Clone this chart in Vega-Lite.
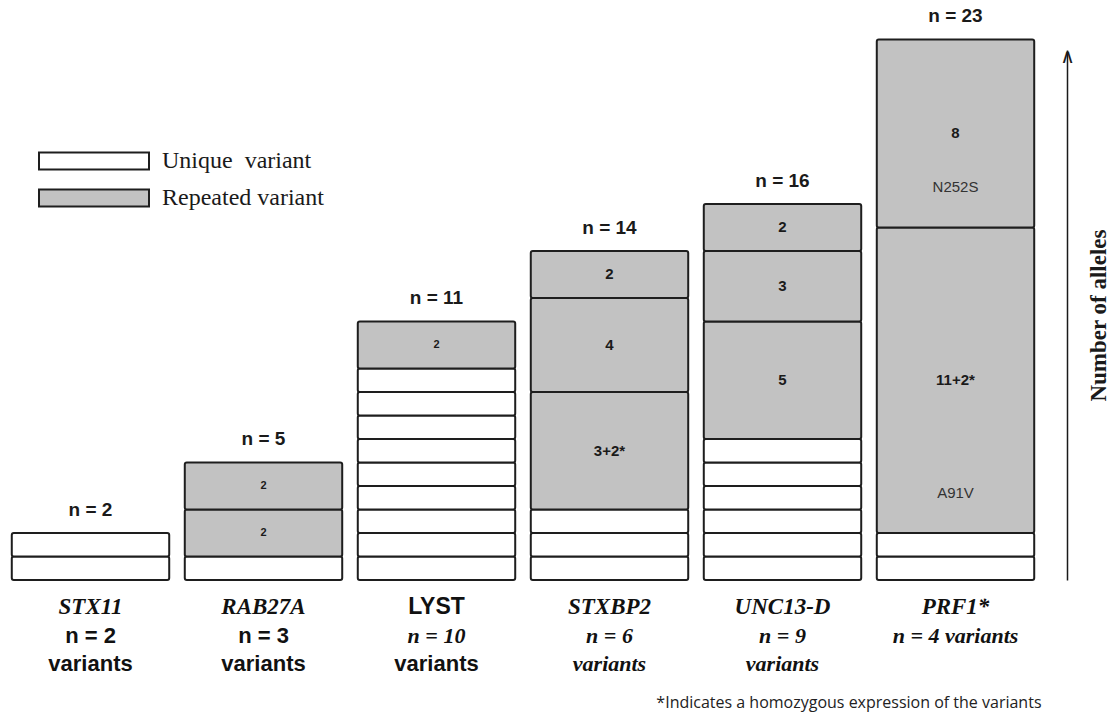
{
  "$schema": "https://vega.github.io/schema/vega-lite/v6.json",
  "width": 1038,
  "height": 530,
  "autosize": {"type": "none"},
  "padding": {"left": 4, "top": 50, "right": 73, "bottom": 135},
  "background": "white",
  "config": {"view": {"stroke": null}},
  "resolve": {"scale": {"x": "shared", "y": "shared"}, "axis": {"x": "independent", "y": "independent"}},
  "datasets": {
    "blocks": [
      {"gene": "STX11", "k": 1, "type": "Unique variant", "alleles": 1},
      {"gene": "STX11", "k": 2, "type": "Unique variant", "alleles": 1},
      {"gene": "RAB27A", "k": 1, "type": "Unique variant", "alleles": 1},
      {"gene": "RAB27A", "k": 2, "type": "Repeated variant", "alleles": 2, "label": "2"},
      {"gene": "RAB27A", "k": 3, "type": "Repeated variant", "alleles": 2, "label": "2"},
      {"gene": "LYST", "k": 1, "type": "Unique variant", "alleles": 1},
      {"gene": "LYST", "k": 2, "type": "Unique variant", "alleles": 1},
      {"gene": "LYST", "k": 3, "type": "Unique variant", "alleles": 1},
      {"gene": "LYST", "k": 4, "type": "Unique variant", "alleles": 1},
      {"gene": "LYST", "k": 5, "type": "Unique variant", "alleles": 1},
      {"gene": "LYST", "k": 6, "type": "Unique variant", "alleles": 1},
      {"gene": "LYST", "k": 7, "type": "Unique variant", "alleles": 1},
      {"gene": "LYST", "k": 8, "type": "Unique variant", "alleles": 1},
      {"gene": "LYST", "k": 9, "type": "Unique variant", "alleles": 1},
      {"gene": "LYST", "k": 10, "type": "Repeated variant", "alleles": 2, "label": "2"},
      {"gene": "STXBP2", "k": 1, "type": "Unique variant", "alleles": 1},
      {"gene": "STXBP2", "k": 2, "type": "Unique variant", "alleles": 1},
      {"gene": "STXBP2", "k": 3, "type": "Unique variant", "alleles": 1},
      {"gene": "STXBP2", "k": 4, "type": "Repeated variant", "alleles": 5, "label": "3+2*"},
      {"gene": "STXBP2", "k": 5, "type": "Repeated variant", "alleles": 4, "label": "4"},
      {"gene": "STXBP2", "k": 6, "type": "Repeated variant", "alleles": 2, "label": "2"},
      {"gene": "UNC13-D", "k": 1, "type": "Unique variant", "alleles": 1},
      {"gene": "UNC13-D", "k": 2, "type": "Unique variant", "alleles": 1},
      {"gene": "UNC13-D", "k": 3, "type": "Unique variant", "alleles": 1},
      {"gene": "UNC13-D", "k": 4, "type": "Unique variant", "alleles": 1},
      {"gene": "UNC13-D", "k": 5, "type": "Unique variant", "alleles": 1},
      {"gene": "UNC13-D", "k": 6, "type": "Unique variant", "alleles": 1},
      {"gene": "UNC13-D", "k": 7, "type": "Repeated variant", "alleles": 5, "label": "5"},
      {"gene": "UNC13-D", "k": 8, "type": "Repeated variant", "alleles": 3, "label": "3"},
      {"gene": "UNC13-D", "k": 9, "type": "Repeated variant", "alleles": 2, "label": "2"},
      {"gene": "PRF1", "k": 1, "type": "Unique variant", "alleles": 1},
      {"gene": "PRF1", "k": 2, "type": "Unique variant", "alleles": 1},
      {"gene": "PRF1", "k": 3, "type": "Repeated variant", "alleles": 13, "label": "11+2*", "variant": "A91V"},
      {"gene": "PRF1", "k": 4, "type": "Repeated variant", "alleles": 8, "label": "8", "variant": "N252S"}
    ],
    "genes": [
      {"gene": "STX11", "total": 2, "ntext": "n = 2", "line1": "n = 2", "line2": "variants"},
      {"gene": "RAB27A", "total": 5, "ntext": "n = 5", "line1": "n = 3", "line2": "variants"},
      {"gene": "LYST", "total": 11, "ntext": "n = 11", "line1": "n = 10", "line2": "variants"},
      {"gene": "STXBP2", "total": 14, "ntext": "n = 14", "line1": "n = 6", "line2": "variants"},
      {"gene": "UNC13-D", "total": 16, "ntext": "n = 16", "line1": "n = 9", "line2": "variants"},
      {"gene": "PRF1", "total": 23, "ntext": "n = 23", "line1": "n = 4 variants", "line2": ""}
    ],
    "notes": [
      {"note": "*Indicates a homozygous expression of the variants"}
    ]
  },
  "layer": [
    {
      "data": {"name": "blocks"},
      "transform": [
        {"stack": "alleles", "groupby": ["gene"], "sort": [{"field": "k", "order": "ascending"}], "as": ["y0", "y1"]}
      ],
      "mark": {"type": "bar", "stroke": "#1e1e1e", "strokeWidth": 2, "cornerRadius": 2},
      "encoding": {
        "x": {
          "field": "gene", "type": "nominal",
          "scale": {"domain": ["STX11", "RAB27A", "LYST", "STXBP2", "UNC13-D", "PRF1"], "paddingInner": 0.09, "paddingOuter": 0.045},
          "axis": {
            "orient": "bottom", "domain": false, "ticks": false, "grid": false, "title": null,
            "labelPadding": 15, "labelFontSize": 23, "labelAngle": 0,
            "labelFont": {"condition": {"test": "datum.value === 'LYST'", "value": "Liberation Sans"}, "value": "Liberation Serif"},
            "labelFontStyle": {"condition": {"test": "datum.value === 'LYST'", "value": "normal"}, "value": "italic"},
            "labelFontWeight": "bold", "labelColor": "#111111",
            "labelExpr": "datum.value === 'PRF1' ? 'PRF1*' : datum.value"
          }
        },
        "y": {
          "field": "y1", "type": "quantitative",
          "scale": {"domain": [0, 22.55], "nice": false, "zero": true},
          "axis": {
            "orient": "right", "offset": 25, "grid": false,
            "title": "Number of alleles", "titleFont": "Liberation Serif", "titleFontSize": 23,
            "titleFontWeight": "bold", "titleColor": "#1a1a1a", "titleAngle": 270, "titlePadding": 36,
            "values": [22.5], "labelExpr": "'∧'", "ticks": false, "tickSize": 0,
            "labelPadding": 0, "labelAlign": "center", "labelBaseline": "top", "labelOffset": -5,
            "labelFontSize": 20, "labelFont": "DejaVu Sans", "labelColor": "#1a1a1a",
            "labelFlush": false, "labelOverlap": false, "labelBound": false,
            "domainColor": "#1a1a1a", "domainWidth": 1.5
          }
        },
        "y2": {"field": "y0"},
        "color": {
          "field": "type", "type": "nominal",
          "scale": {"domain": ["Unique variant", "Repeated variant"], "range": ["#ffffff", "#c2c2c2"]},
          "legend": {
            "orient": "none", "legendX": 34, "legendY": 101, "title": null, "padding": 0,
            "symbolType": "M-1,-0.155H1V0.155H-1Z", "symbolSize": 12100,
            "symbolStrokeColor": "#1e1e1e", "symbolStrokeWidth": 2,
            "labelFont": "Liberation Serif", "labelFontSize": 24, "labelColor": "#1a1a1a",
            "labelOffset": 12, "rowPadding": 13, "clipHeight": 20, "labelLimit": 400,
            "labelExpr": "datum.label === 'Unique variant' ? 'Unique\u00a0 variant' : datum.label"
          }
        }
      }
    },
    {
      "data": {"name": "genes"},
      "mark": {"type": "text", "baseline": "bottom", "dy": -13, "font": "Liberation Sans", "fontWeight": "bold", "fontSize": 19, "color": "#1a1a1a"},
      "encoding": {
        "x": {"field": "gene", "type": "nominal", "axis": null},
        "y": {"field": "total", "type": "quantitative", "axis": null},
        "text": {"field": "ntext"}
      }
    },
    {
      "data": {"name": "blocks"},
      "transform": [
        {"stack": "alleles", "groupby": ["gene"], "sort": [{"field": "k", "order": "ascending"}], "as": ["y0", "y1"]},
        {"filter": "datum.label && datum.gene !== 'RAB27A' && datum.gene !== 'LYST'"},
        {"calculate": "(datum.y0 + datum.y1) / 2", "as": "mid"}
      ],
      "mark": {"type": "text", "baseline": "middle", "font": "Liberation Sans", "fontWeight": "bold", "fontSize": 15, "color": "#1a1a1a"},
      "encoding": {
        "x": {"field": "gene", "type": "nominal", "axis": null},
        "y": {"field": "mid", "type": "quantitative", "axis": null},
        "text": {"field": "label"}
      }
    },
    {
      "data": {"name": "blocks"},
      "transform": [
        {"stack": "alleles", "groupby": ["gene"], "sort": [{"field": "k", "order": "ascending"}], "as": ["y0", "y1"]},
        {"filter": "datum.label && (datum.gene === 'RAB27A' || datum.gene === 'LYST')"},
        {"calculate": "(datum.y0 + datum.y1) / 2", "as": "mid"}
      ],
      "mark": {"type": "text", "baseline": "middle", "font": "Liberation Sans", "fontWeight": "bold", "fontSize": 11, "color": "#1a1a1a"},
      "encoding": {
        "x": {"field": "gene", "type": "nominal", "axis": null},
        "y": {"field": "mid", "type": "quantitative", "axis": null},
        "text": {"field": "label"}
      }
    },
    {
      "data": {"name": "blocks"},
      "transform": [
        {"stack": "alleles", "groupby": ["gene"], "sort": [{"field": "k", "order": "ascending"}], "as": ["y0", "y1"]},
        {"filter": "datum.variant"}
      ],
      "mark": {"type": "text", "baseline": "middle", "dy": -40, "font": "Liberation Sans", "fontSize": 15, "color": "#333333"},
      "encoding": {
        "x": {"field": "gene", "type": "nominal", "axis": null},
        "y": {"field": "y0", "type": "quantitative", "axis": null},
        "text": {"field": "variant"}
      }
    },
    {
      "data": {"name": "genes"},
      "transform": [{"filter": "datum.gene === 'STX11' || datum.gene === 'RAB27A'"}],
      "mark": {"type": "text", "baseline": "middle", "dy": 56, "font": "Liberation Sans Narrow, Liberation Sans", "fontWeight": "bold", "fontSize": 22, "color": "#111111"},
      "encoding": {
        "x": {"field": "gene", "type": "nominal", "axis": null},
        "y": {"datum": 0, "type": "quantitative", "axis": null},
        "text": {"field": "line1"}
      }
    },
    {
      "data": {"name": "genes"},
      "transform": [{"filter": "datum.gene !== 'STX11' && datum.gene !== 'RAB27A'"}],
      "mark": {"type": "text", "baseline": "middle", "dy": 56, "font": "Liberation Serif", "fontStyle": "italic", "fontWeight": "bold", "fontSize": 22, "color": "#111111"},
      "encoding": {
        "x": {"field": "gene", "type": "nominal", "axis": null},
        "y": {"datum": 0, "type": "quantitative", "axis": null},
        "text": {"field": "line1"}
      }
    },
    {
      "data": {"name": "genes"},
      "transform": [{"filter": "datum.gene === 'STX11' || datum.gene === 'RAB27A' || datum.gene === 'LYST'"}],
      "mark": {"type": "text", "baseline": "middle", "dy": 84, "font": "Liberation Sans Narrow, Liberation Sans", "fontWeight": "bold", "fontSize": 22, "color": "#111111"},
      "encoding": {
        "x": {"field": "gene", "type": "nominal", "axis": null},
        "y": {"datum": 0, "type": "quantitative", "axis": null},
        "text": {"field": "line2"}
      }
    },
    {
      "data": {"name": "genes"},
      "transform": [{"filter": "datum.gene === 'STXBP2' || datum.gene === 'UNC13-D'"}],
      "mark": {"type": "text", "baseline": "middle", "dy": 84, "font": "Liberation Serif", "fontStyle": "italic", "fontWeight": "bold", "fontSize": 22, "color": "#111111"},
      "encoding": {
        "x": {"field": "gene", "type": "nominal", "axis": null},
        "y": {"datum": 0, "type": "quantitative", "axis": null},
        "text": {"field": "line2"}
      }
    },
    {
      "data": {"name": "notes"},
      "mark": {"type": "text", "align": "right", "baseline": "middle", "dx": 86, "dy": 123, "font": "Open Sans", "fontSize": 16, "color": "#222222"},
      "encoding": {
        "x": {"datum": "PRF1", "type": "nominal", "axis": null},
        "y": {"datum": 0, "type": "quantitative", "axis": null},
        "text": {"field": "note"}
      }
    }
  ]
}
